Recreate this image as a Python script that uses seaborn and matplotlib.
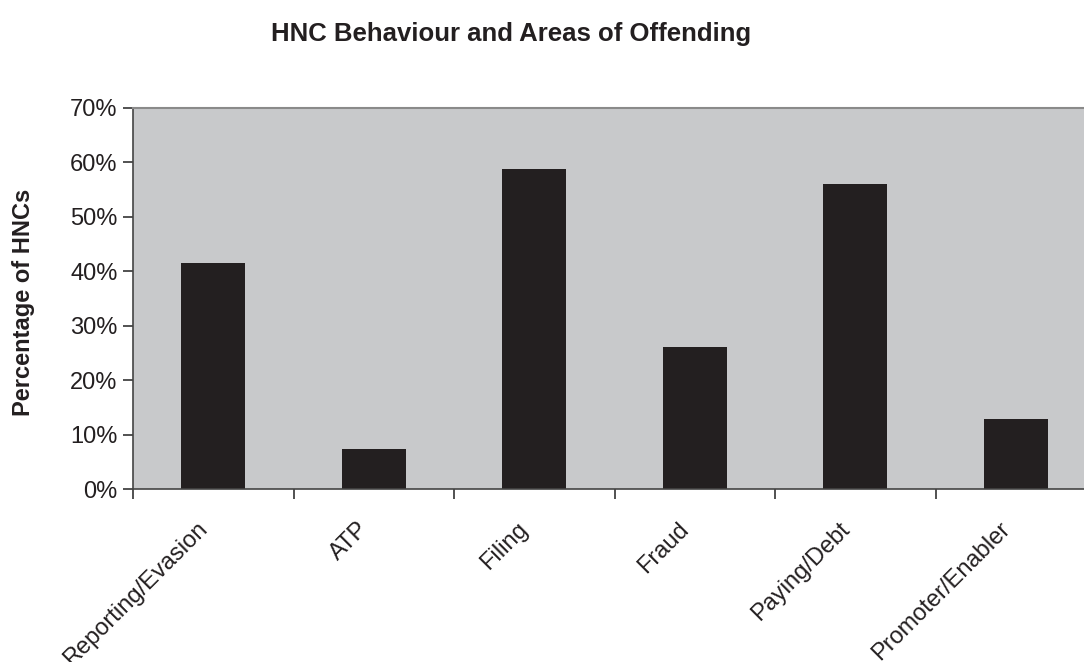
import numpy as np
import pandas as pd
import matplotlib
matplotlib.use("Agg")
import matplotlib.pyplot as plt
import matplotlib.transforms as mtransforms
import seaborn as sns
from matplotlib.ticker import PercentFormatter, FixedLocator

# data
categories = ["Reporting/Evasion", "ATP", "Filing", "Fraud", "Paying/Debt", "Promoter/Enabler"]
percentages = [41.5, 7.3, 58.8, 26.1, 56.0, 12.9]
y_ticks = [0, 10, 20, 30, 40, 50, 60, 70]

df = pd.DataFrame({"Category": categories, "Percent": percentages})

sns.set_style("white")
plt.rcParams["font.family"] = ["Liberation Sans", "DejaVu Sans"]

fig = plt.figure(figsize=(10.84, 6.62), dpi=100)
ax = fig.add_axes([133 / 1084, 173 / 662, 963 / 1084, 381 / 662])

sns.barplot(data=df, x="Category", y="Percent", color="#231F20",
            width=0.4, saturation=1, linewidth=0, edgecolor="none", ax=ax)

ax.set_facecolor("#C8C9CB")
ax.set_xlim(-0.5, len(categories) - 0.5)
ax.set_ylim(0, 70)
ax.set_yticks(y_ticks)
ax.yaxis.set_major_formatter(PercentFormatter(decimals=0))

# tick marks between categories, labels at the centres
ax.set_xticks(range(len(categories)))
ax.xaxis.set_minor_locator(FixedLocator(np.arange(-0.5, len(categories), 1.0)))
ax.tick_params(axis="x", which="major", bottom=True, length=0, pad=8)
ax.tick_params(axis="x", which="minor", bottom=True, length=7, width=1.2,
               color="#333333", direction="out")
ax.tick_params(axis="y", left=True, length=7, width=1.2, color="#333333", direction="out",
               labelsize=17, labelcolor="#231F20", pad=4)
ax.set_xticklabels(categories, rotation=45, ha="right", rotation_mode="anchor",
                   fontsize=17, color="#231F20")
shift = mtransforms.ScaledTranslation(-17 / 100, -18 / 100, fig.dpi_scale_trans)
for lbl in ax.get_xticklabels():
    lbl.set_transform(lbl.get_transform() + shift)

for side in ["left", "bottom"]:
    ax.spines[side].set_color("#444444")
    ax.spines[side].set_linewidth(1.2)
ax.spines["top"].set_color("#8A8A8A")
ax.spines["top"].set_linewidth(1.5)
ax.spines["right"].set_visible(False)

ax.set_xlabel("")
ax.set_ylabel("")
fig.text(24 / 1084, 1 - 302 / 662, "Percentage of HNCs", rotation=90,
         ha="center", va="center", fontsize=17, fontweight="bold", color="#231F20")
fig.text(511 / 1084, 1 - 34 / 662, "HNC Behaviour and Areas of Offending",
         ha="center", va="center", fontsize=18.5, fontweight="bold", color="#231F20")

fig.savefig("out.png", dpi=100)
